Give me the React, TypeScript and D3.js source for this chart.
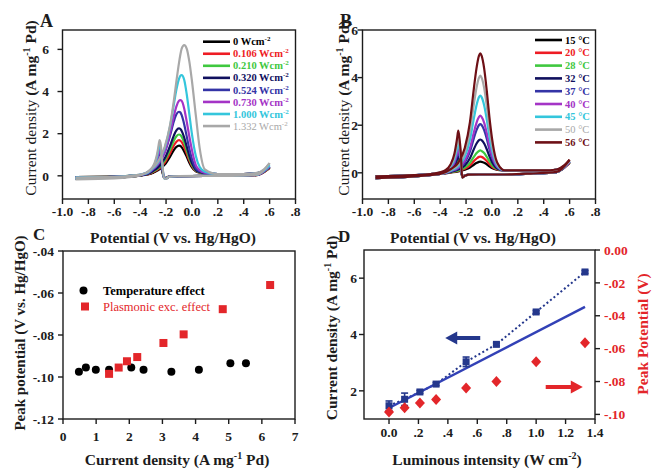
import React from "react";
import * as d3 from "d3";

const FONT = "'Liberation Serif', 'Times New Roman', serif";
const INK = "#1c1c1c";
const RED = "#e3262a";

// ---- A / B: cyclic voltammograms, potential grids (V vs. Hg/HgO) ----
const FWD_E = [-0.9, -0.6, -0.4, -0.32, -0.26, -0.21, -0.17, -0.14, -0.12, -0.1, -0.09, -0.08, -0.06, -0.04, -0.02, 0.0, 0.03, 0.06, 0.1, 0.2, 0.4, 0.5, 0.56, 0.6];
const BWD_E = [-0.9, -0.6, -0.45, -0.36, -0.32, -0.29, -0.27, -0.26, -0.25, -0.24, -0.23, -0.215, -0.2, -0.18, -0.1, 0.1, 0.3, 0.5, 0.6];

const A_LEGEND = ["0", "0.106", "0.210", "0.320", "0.524", "0.730", "1.000", "1.332"];
const A_COLORS = ["#000000", "#ee1c24", "#3fc83f", "#10105e", "#3434a6", "#a434c6", "#34c6dc", "#a8a8a8"];
const A_FWD = [
  [-0.12, -0.08, 0.01, 0.12, 0.27, 0.53, 0.9, 1.22, 1.37, 1.43, 1.42, 1.36, 1.16, 0.9, 0.62, 0.4, 0.21, 0.15, 0.11, 0.08, 0.08, 0.12, 0.22, 0.38],
  [-0.12, -0.08, 0.02, 0.14, 0.32, 0.63, 1.06, 1.44, 1.62, 1.69, 1.67, 1.61, 1.37, 1.05, 0.73, 0.47, 0.23, 0.16, 0.12, 0.08, 0.08, 0.12, 0.22, 0.38],
  [-0.12, -0.08, 0.02, 0.16, 0.36, 0.73, 1.23, 1.67, 1.88, 1.96, 1.94, 1.86, 1.59, 1.21, 0.83, 0.53, 0.26, 0.17, 0.12, 0.08, 0.08, 0.12, 0.22, 0.4],
  [-0.12, -0.08, 0.02, 0.18, 0.41, 0.83, 1.41, 1.91, 2.16, 2.25, 2.23, 2.14, 1.82, 1.39, 0.95, 0.6, 0.28, 0.18, 0.12, 0.08, 0.08, 0.12, 0.24, 0.42],
  [-0.12, -0.08, 0.03, 0.23, 0.55, 1.11, 1.89, 2.58, 2.92, 3.04, 3.01, 2.89, 2.45, 1.86, 1.27, 0.8, 0.35, 0.21, 0.13, 0.08, 0.08, 0.12, 0.26, 0.45],
  [-0.12, -0.08, 0.04, 0.24, 0.57, 1.14, 2.0, 2.83, 3.3, 3.56, 3.59, 3.56, 3.2, 2.56, 1.86, 1.22, 0.51, 0.27, 0.15, 0.08, 0.08, 0.12, 0.26, 0.45],
  [-0.13, -0.09, 0.05, 0.26, 0.65, 1.32, 2.32, 3.38, 4.09, 4.6, 4.74, 4.78, 4.56, 3.86, 2.92, 1.98, 0.94, 0.42, 0.2, 0.08, 0.08, 0.12, 0.28, 0.5],
  [-0.17, -0.12, 0.02, 0.3, 0.7, 1.38, 2.38, 3.56, 4.49, 5.36, 5.73, 6.02, 6.2, 6.03, 5.42, 4.5, 2.87, 1.3, 0.3, 0.08, 0.08, 0.14, 0.32, 0.6],
];
const A_BWD = [
  [-0.06, -0.04, 0.01, 0.04, 0.1, 0.19, 0.33, 0.44, 0.55, 0.47, 0.22, -0.08, -0.1, -0.04, -0.02, 0, 0, 0.03, 0.38],
  [-0.06, -0.04, 0.01, 0.05, 0.12, 0.23, 0.39, 0.52, 0.65, 0.55, 0.26, -0.08, -0.1, -0.04, -0.02, 0, 0, 0.03, 0.38],
  [-0.06, -0.04, 0.01, 0.05, 0.14, 0.26, 0.45, 0.6, 0.75, 0.64, 0.3, -0.09, -0.11, -0.05, -0.02, 0, 0, 0.04, 0.4],
  [-0.06, -0.04, 0.01, 0.06, 0.15, 0.3, 0.51, 0.68, 0.85, 0.72, 0.34, -0.09, -0.12, -0.05, -0.02, 0, 0, 0.04, 0.42],
  [-0.07, -0.05, 0.01, 0.08, 0.2, 0.38, 0.66, 0.88, 1.1, 0.94, 0.44, -0.1, -0.13, -0.05, -0.02, 0, 0, 0.04, 0.45],
  [-0.07, -0.05, 0.01, 0.09, 0.22, 0.44, 0.75, 1.0, 1.25, 1.06, 0.5, -0.1, -0.13, -0.05, -0.02, 0, 0, 0.04, 0.45],
  [-0.07, -0.05, 0.02, 0.1, 0.27, 0.52, 0.9, 1.2, 1.5, 1.28, 0.6, -0.12, -0.14, -0.05, -0.02, 0, 0, 0.04, 0.5],
  [-0.08, -0.05, 0.02, 0.12, 0.3, 0.59, 1.01, 1.35, 1.69, 1.44, 0.68, -0.12, -0.15, -0.05, -0.01, 0, 0, 0.05, 0.6],
];

const B_LEGEND = ["15", "20", "28", "32", "37", "40", "45", "50", "56"];
const B_COLORS = ["#000000", "#ee1c24", "#3fc83f", "#10105e", "#3434a6", "#a434c6", "#34c6dc", "#a8a8a8", "#6e1016"];
const B_FWD = [
  [-0.22, -0.15, -0.05, 0.01, 0.06, 0.13, 0.22, 0.34, 0.41, 0.46, 0.47, 0.46, 0.42, 0.36, 0.27, 0.2, 0.14, 0.11, 0.1, 0.1, 0.1, 0.13, 0.25, 0.42],
  [-0.22, -0.15, -0.05, 0.02, 0.08, 0.17, 0.31, 0.49, 0.59, 0.67, 0.68, 0.67, 0.6, 0.5, 0.37, 0.26, 0.16, 0.12, 0.1, 0.1, 0.1, 0.13, 0.25, 0.42],
  [-0.22, -0.15, -0.05, 0.03, 0.1, 0.22, 0.42, 0.67, 0.82, 0.92, 0.94, 0.92, 0.83, 0.67, 0.49, 0.33, 0.19, 0.13, 0.1, 0.1, 0.1, 0.13, 0.26, 0.44],
  [-0.22, -0.15, -0.05, 0.04, 0.14, 0.31, 0.61, 0.99, 1.22, 1.37, 1.4, 1.37, 1.23, 0.99, 0.7, 0.46, 0.23, 0.14, 0.1, 0.1, 0.1, 0.13, 0.26, 0.45],
  [-0.22, -0.15, -0.05, 0.06, 0.19, 0.44, 0.89, 1.45, 1.78, 2.01, 2.05, 2.01, 1.79, 1.43, 1.0, 0.64, 0.3, 0.16, 0.1, 0.1, 0.1, 0.13, 0.28, 0.46],
  [-0.22, -0.15, -0.05, 0.07, 0.22, 0.51, 1.03, 1.69, 2.09, 2.35, 2.4, 2.35, 2.1, 1.67, 1.16, 0.74, 0.33, 0.17, 0.1, 0.1, 0.1, 0.13, 0.28, 0.46],
  [-0.22, -0.15, -0.05, 0.09, 0.28, 0.68, 1.39, 2.28, 2.82, 3.18, 3.24, 3.18, 2.83, 2.24, 1.54, 0.97, 0.42, 0.19, 0.1, 0.1, 0.1, 0.13, 0.3, 0.48],
  [-0.22, -0.15, -0.05, 0.12, 0.35, 0.85, 1.74, 2.87, 3.55, 4.0, 4.08, 4.0, 3.56, 2.81, 1.93, 1.21, 0.5, 0.22, 0.1, 0.1, 0.1, 0.13, 0.3, 0.5],
  [-0.22, -0.15, -0.05, 0.15, 0.43, 1.04, 2.13, 3.53, 4.37, 4.92, 5.02, 4.92, 4.38, 3.45, 2.36, 1.47, 0.59, 0.25, 0.1, 0.1, 0.1, 0.14, 0.32, 0.55],
];
const B_BWD = [
  [-0.15, -0.1, -0.04, 0.0, 0.07, 0.16, 0.28, 0.35, 0.28, 0.16, -0.15, -0.12, -0.1, -0.08, -0.07, -0.07, -0.03, 0.03, 0.42],
  [-0.15, -0.1, -0.04, 0.01, 0.09, 0.2, 0.36, 0.45, 0.36, 0.2, -0.15, -0.12, -0.1, -0.08, -0.07, -0.07, -0.03, 0.03, 0.42],
  [-0.15, -0.1, -0.04, 0.02, 0.11, 0.25, 0.44, 0.55, 0.44, 0.25, -0.16, -0.13, -0.1, -0.08, -0.07, -0.07, -0.03, 0.03, 0.44],
  [-0.15, -0.1, -0.04, 0.03, 0.14, 0.32, 0.56, 0.7, 0.56, 0.32, -0.17, -0.13, -0.1, -0.08, -0.07, -0.07, -0.03, 0.03, 0.45],
  [-0.15, -0.1, -0.04, 0.04, 0.18, 0.4, 0.72, 0.9, 0.72, 0.4, -0.18, -0.14, -0.1, -0.08, -0.07, -0.07, -0.03, 0.03, 0.46],
  [-0.15, -0.1, -0.04, 0.05, 0.2, 0.45, 0.8, 1.0, 0.8, 0.45, -0.18, -0.14, -0.1, -0.08, -0.07, -0.07, -0.03, 0.03, 0.46],
  [-0.15, -0.1, -0.04, 0.07, 0.25, 0.56, 1.0, 1.25, 1.0, 0.56, -0.19, -0.14, -0.1, -0.08, -0.07, -0.07, -0.03, 0.03, 0.48],
  [-0.15, -0.1, -0.03, 0.09, 0.3, 0.68, 1.2, 1.5, 1.2, 0.68, -0.2, -0.15, -0.1, -0.08, -0.07, -0.07, -0.03, 0.04, 0.5],
  [-0.15, -0.1, -0.03, 0.11, 0.35, 0.8, 1.42, 1.77, 1.42, 0.8, -0.2, -0.15, -0.1, -0.08, -0.07, -0.07, -0.03, 0.04, 0.55],
];

const CV_XTICKS = [-1, -0.8, -0.6, -0.4, -0.2, 0, 0.2, 0.4, 0.6, 0.8];
const CV_XLABELS = ["-1.0", "-.8", "-.6", "-.4", "-.2", "0.0", ".2", ".4", ".6", ".8"];
const CV_YTICKS = [0, 2, 4, 6];

// ---- C: peak potential vs current density ----
const C_TEMP_X = [0.48, 0.69, 0.99, 1.39, 2.06, 2.43, 3.27, 4.1, 5.05, 5.52];
const C_TEMP_Y = [-0.0975, -0.0955, -0.0965, -0.0965, -0.0955, -0.0965, -0.0975, -0.0965, -0.0935, -0.0935];
const C_PLAS_X = [1.39, 1.68, 1.93, 2.24, 3.03, 3.64, 4.82, 6.25];
const C_PLAS_Y = [-0.0985, -0.0955, -0.0925, -0.0905, -0.0838, -0.0797, -0.0677, -0.0562];
const C_XTICKS = [0, 1, 2, 3, 4, 5, 6, 7];
const C_YTICKS = [-0.04, -0.06, -0.08, -0.1, -0.12];
const C_YLABELS = ["-.04", "-.06", "-.08", "-.10", "-.12"];

// ---- D: vs luminous intensity ----
const D_X = [0, 0.106, 0.21, 0.32, 0.524, 0.73, 1.0, 1.332];
const D_J = [1.47, 1.7, 1.96, 2.24, 3.03, 3.65, 4.8, 6.22];
const D_ERR = [0.17, 0.22, 0.05, 0.05, 0.17, 0.05, 0.05, 0.05];
const D_EP = [-0.0986, -0.0959, -0.093, -0.091, -0.084, -0.08, -0.068, -0.0564];
const D_FIT_X = [0, 1.332];
const D_FIT_Y = [1.39, 4.98];
const D_XTICKS = [0, 0.2, 0.4, 0.6, 0.8, 1.0, 1.2, 1.4];
const D_XLABELS = ["0.0", ".2", ".4", ".6", ".8", "1.0", "1.2", "1.4"];
const D_YTICKS = [2, 4, 6];
const D_RTICKS = [0, -0.02, -0.04, -0.06, -0.08, -0.1];
const D_RLABELS = ["0.00", "-.02", "-.04", "-.06", "-.08", "-.10"];

type Sc = d3.ScaleLinear<number, number>;
const TICK_FS = 13.5;

function BottomTicks({ s, ticks, labels, y, ly }: { s: Sc; ticks: number[]; labels: string[]; y: number; ly: number }) {
  return (
    <g>
      {ticks.map((t, i) => (
        <g key={i}>
          <line x1={s(t)} x2={s(t)} y1={y} y2={y + 5} stroke={INK} strokeWidth={1.4} />
          <text x={s(t)} y={ly} textAnchor="middle" fontSize={TICK_FS} fontWeight="bold" fill={INK}>{labels[i]}</text>
        </g>
      ))}
    </g>
  );
}

function SideTicks({ s, ticks, labels, x, lx, dir, color = INK }: { s: Sc; ticks: number[]; labels: string[]; x: number; lx: number; dir: number; color?: string }) {
  return (
    <g>
      {ticks.map((t, i) => (
        <g key={i}>
          <line x1={x} x2={x + dir * 5} y1={s(t)} y2={s(t)} stroke={INK} strokeWidth={1.4} />
          <text x={lx} y={s(t) + 4.7} textAnchor={dir < 0 ? "end" : "start"} fontSize={TICK_FS} fontWeight="bold" fill={color}>{labels[i]}</text>
        </g>
      ))}
    </g>
  );
}

function YTitle({ x, y, first, rest, sup, tail, color = INK, firstBold = true, fs = 15.5 }: any) {
  return (
    <text transform={`translate(${x},${y}) rotate(-90)`} textAnchor="middle" fontSize={fs} fill={color} fontWeight="bold">
      <tspan fontWeight={firstBold ? "bold" : "normal"}>{first}</tspan>
      {rest}
      {sup ? <tspan dy={-6} fontSize={10}>{sup}</tspan> : null}
      {sup ? <tspan dy={6}>{tail}</tspan> : null}
    </text>
  );
}

function CVPanel({ left, yDomain, fwd, bwd, colors, legend, unit, lx, ly, lstep, tickLx, titleX, letter, letterX, clipId }: any) {
  const top = 30, bottom = 199, right = left + 233;
  const x = d3.scaleLinear().domain([-1, 0.8]).range([left, right]);
  const y = d3.scaleLinear().domain(yDomain).range([bottom, top]);
  const line = d3.line<number[]>().x((d) => x(d[0])).y((d) => y(d[1])).curve(d3.curveMonotoneX);
  return (
    <g>
      <clipPath id={clipId}><rect x={left} y={top} width={right - left} height={bottom - top} /></clipPath>
      <g clipPath={`url(#${clipId})`}>
        {fwd.map((vals: number[], k: number) => (
          <g key={k} fill="none" stroke={colors[k]} strokeWidth={2.2} strokeLinejoin="round">
            <path d={line(BWD_E.map((e, i) => [e, bwd[k][i]])) || ""} />
            <path d={line(FWD_E.map((e, i) => [e, vals[i]])) || ""} />
          </g>
        ))}
      </g>
      <rect x={left} y={top} width={right - left} height={bottom - top} fill="none" stroke={INK} strokeWidth={1.4} />
      <BottomTicks s={x} ticks={CV_XTICKS} labels={CV_XLABELS} y={bottom} ly={216} />
      <SideTicks s={y} ticks={CV_YTICKS} labels={CV_YTICKS.map(String)} x={left} lx={tickLx} dir={-1} />
      {legend.map((lab: string, k: number) => (
        <g key={k}>
          <line x1={lx} x2={lx + 27} y1={ly + k * lstep} y2={ly + k * lstep} stroke={colors[k]} strokeWidth={2.6} />
          <text x={lx + 30} y={ly + k * lstep + 3.6} fontSize={10.5} fontWeight={colors[k] === "#a8a8a8" ? "normal" : "bold"} fill={colors[k]}>
            {lab}
            {unit === "W" ? (
              <>
                {" Wcm"}
                <tspan dy={-4} fontSize={7}>-2</tspan>
              </>
            ) : (
              " \u00B0C"
            )}
          </text>
        </g>
      ))}
      <text x={(left + right) / 2 - 6} y={243} textAnchor="middle" fontSize={15.5} fontWeight="bold" fill={INK}>Potential (V vs. Hg/HgO)</text>
      <YTitle x={titleX} y={108} first="Current density " firstBold={false} rest="(A mg" sup="-1" tail=" Pd)" />
      <text x={letterX} y={27} fontSize={18} fontWeight="bold" fill={INK}>{letter}</text>
    </g>
  );
}

function Arrow({ x1, x2, y, color }: { x1: number; x2: number; y: number; color: string }) {
  const dir = x2 > x1 ? 1 : -1;
  const hx = x2 - dir * 12;
  const pts = [
    [x1, y - 2], [hx, y - 2], [hx, y - 6.5], [x2, y], [hx, y + 6.5], [hx, y + 2], [x1, y + 2],
  ];
  return <polygon points={pts.map((p) => p.join(",")).join(" ")} fill={color} />;
}

function PanelC() {
  const left = 63, right = 295, top = 251, bottom = 419;
  const x = d3.scaleLinear().domain([0, 7]).range([left, right]);
  const y = d3.scaleLinear().domain([-0.12, -0.04]).range([bottom, top]);
  return (
    <g>
      <rect x={left} y={top} width={right - left} height={bottom - top} fill="none" stroke={INK} strokeWidth={1.4} />
      {C_TEMP_X.map((v, i) => (
        <circle key={i} cx={x(v)} cy={y(C_TEMP_Y[i])} r={4} fill="#000" />
      ))}
      {C_PLAS_X.map((v, i) => (
        <rect key={i} x={x(v) - 4} y={y(C_PLAS_Y[i]) - 4} width={8} height={8} fill={RED} />
      ))}
      <BottomTicks s={x} ticks={C_XTICKS} labels={C_XTICKS.map(String)} y={bottom} ly={441} />
      <SideTicks s={y} ticks={C_YTICKS} labels={C_YLABELS} x={left} lx={54} dir={-1} />
      <circle cx={83.5} cy={290.5} r={4} fill="#000" />
      <text x={103} y={295} fontSize={12.5} fontWeight="bold" fill="#000">Temperature effect</text>
      <rect x={81} y={302.5} width={8} height={8} fill={RED} />
      <text x={103} y={311} fontSize={12.5} fill={RED}>Plasmonic exc. effect</text>
      <text x={177} y={465} textAnchor="middle" fontSize={15.5} fontWeight="bold" fill={INK}>
        Current density (A mg<tspan dy={-6} fontSize={10}>-1</tspan><tspan dy={6}> Pd)</tspan>
      </text>
      <YTitle x={25} y={333} first="Peak  potential (V vs. Hg/HgO)" rest="" fs={15} />
      <text x={33} y={240} fontSize={17} fontWeight="bold" fill={INK}>C</text>
    </g>
  );
}

function PanelD() {
  const left = 364, right = 595, top = 250, bottom = 419;
  const x = d3.scaleLinear().domain([-0.17, 1.4]).range([left, right]);
  const yl = d3.scaleLinear().domain([1, 7]).range([bottom, top]);
  const yr = d3.scaleLinear().domain([-0.1028, 0]).range([bottom, top]);
  const blue = "#24378c";
  const pts = D_X.map((v, i) => [v, D_J[i]]);
  const dotted = d3.line<number[]>().x((d) => x(d[0])).y((d) => yl(d[1]))(pts) || "";
  const fit = d3.line<number[]>().x((d) => x(d[0])).y((d) => yl(d[1]))(D_FIT_X.map((v, i) => [v, D_FIT_Y[i]])) || "";
  return (
    <g>
      <rect x={left} y={top} width={right - left} height={bottom - top} fill="none" stroke={INK} strokeWidth={1.4} />
      <path d={dotted} fill="none" stroke={blue} strokeWidth={2} strokeDasharray="2,2.5" />
      <path d={fit} fill="none" stroke="#3241b6" strokeWidth={2.4} />
      {D_X.map((v, i) => (
        <g key={i} stroke={blue} strokeWidth={1.6}>
          <line x1={x(v)} x2={x(v)} y1={yl(D_J[i] - D_ERR[i])} y2={yl(D_J[i] + D_ERR[i])} />
          <line x1={x(v) - 3.5} x2={x(v) + 3.5} y1={yl(D_J[i] + D_ERR[i])} y2={yl(D_J[i] + D_ERR[i])} />
          <line x1={x(v) - 3.5} x2={x(v) + 3.5} y1={yl(D_J[i] - D_ERR[i])} y2={yl(D_J[i] - D_ERR[i])} />
          <rect x={x(v) - 3.5} y={yl(D_J[i]) - 3.5} width={7} height={7} fill={blue} stroke="none" />
        </g>
      ))}
      {D_X.map((v, i) => {
        const cx = x(v), cy = yr(D_EP[i]);
        return <polygon key={i} points={`${cx},${cy - 5.5} ${cx + 5},${cy} ${cx},${cy + 5.5} ${cx - 5},${cy}`} fill={RED} />;
      })}
      <Arrow x1={x(0.62)} x2={x(0.382)} y={yl(3.88)} color={blue} />
      <Arrow x1={x(1.065)} x2={x(1.317)} y={yr(-0.0834)} color={RED} />
      <BottomTicks s={x} ticks={D_XTICKS} labels={D_XLABELS} y={bottom} ly={437} />
      <SideTicks s={yl} ticks={D_YTICKS} labels={D_YTICKS.map(String)} x={left} lx={357} dir={-1} />
      <SideTicks s={yr} ticks={D_RTICKS} labels={D_RLABELS} x={right} lx={604} dir={1} color={RED} />
      <text x={487} y={465} textAnchor="middle" fontSize={15.5} fontWeight="bold" fill={INK}>
        Luminous intensity (W cm<tspan dy={-6} fontSize={10}>-2</tspan><tspan dy={6}>)</tspan>
      </text>
      <YTitle x={337} y={328} first="Current density " rest="(A mg" sup="-1" tail=" Pd)" />
      <YTitle x={648} y={334} first="Peak Potential (V)" rest="" color={RED} />
      <text x={338} y={242} fontSize={17} fontWeight="bold" fill={INK}>D</text>
    </g>
  );
}

export default function App() {
  return (
    <svg width={652} height={470} style={{ position: "absolute", left: 0, top: 0, background: "#fff" }} fontFamily={FONT}>
      <rect width={652} height={470} fill="#fff" />
      <CVPanel left={62.5} yDomain={[-1.1, 6.92]} fwd={A_FWD} bwd={A_BWD} colors={A_COLORS} legend={A_LEGEND} unit="W"
        lx={203} ly={41.7} lstep={12.05} tickLx={49} titleX={36} letter="A" letterX={40} clipId="clipA" />
      <CVPanel left={362.5} yDomain={[-1.1, 6.0]} fwd={B_FWD} bwd={B_BWD} colors={B_COLORS} legend={B_LEGEND} unit="C"
        lx={535} ly={40} lstep={12.8} tickLx={358} titleX={349} letter="B" letterX={340} clipId="clipB" />
      <PanelC />
      <PanelD />
    </svg>
  );
}
